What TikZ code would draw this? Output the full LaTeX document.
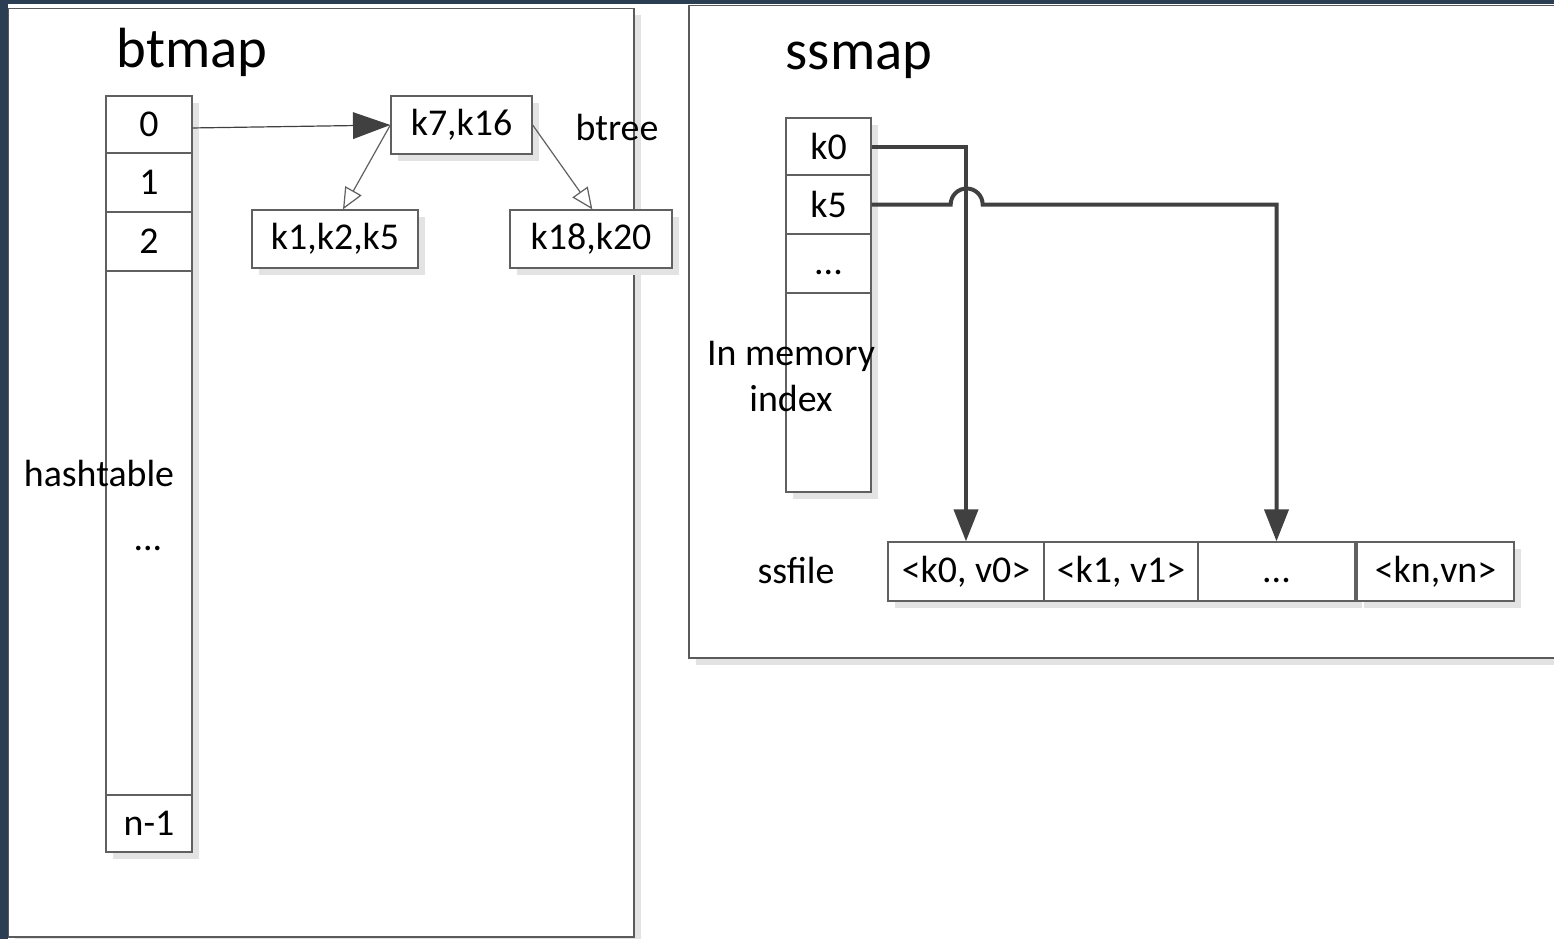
\documentclass[tikz,border=0pt]{standalone}
\usepackage{fontspec}
\setmainfont{Carlito}
\usetikzlibrary{arrows.meta,shadows,calc}

% one pixel of the drawing grid
\newlength\pxu
\setlength\pxu{0.75pt}

\definecolor{bgnavy}{RGB}{44,62,84}
\definecolor{boxgray}{RGB}{96,96,96}
\definecolor{framegray}{RGB}{90,90,90}
\definecolor{conngray}{RGB}{64,64,64}
\definecolor{shadegray}{RGB}{227,227,227}

\newcommand\bodytext{\fontsize{28.4pt}{34.5pt}\selectfont}
\newcommand\titletext{\fontsize{42.5pt}{50pt}\selectfont}
% dots set on the baseline, with the height of a regular entry
\newcommand\celldots{\vphantom{<k0, v0>}.\kern0pt.\kern0pt.}

\tikzset{
  cell/.style={draw=boxgray, line width=1pt, fill=white, inner sep=0pt,
    font=\bodytext, text=black,
    drop shadow={shadow xshift=5pt, shadow yshift=-5pt, fill=shadegray, opacity=1}},
  label/.style={inner sep=0pt, font=\bodytext, text=black},
  title/.style={inner sep=0pt, font=\titletext, text=black},
  frame/.style={draw=framegray, line width=1.3pt, fill=white},
  thinarrow/.style={draw=boxgray, line width=0.9pt},
  conn/.style={draw=conngray, line width=3pt,
    -{Triangle[length=24pt, width=18pt, fill=conngray]}},
}

\begin{document}
\begin{tikzpicture}[x=0.75pt, y=-0.75pt]
  \useasboundingbox (0,0) rectangle (1554,939);
  \fill[white] (0,0) rectangle (1554,939);
  \fill[bgnavy] (0,0) rectangle (1554,3.5);
  \fill[bgnavy] (0,0) rectangle (8,939);

  % ---------- btmap frame ----------
  \fill[shadegray] (15,15) rectangle (641,945);
  \path[frame] (8.5,8.5) rectangle (634,937);
  \node[title] (btmap) at (192,52) {btmap};

  % hashtable column
  \node[cell, minimum width=86\pxu, minimum height=57\pxu] (h0) at (149,124.5) {0};
  \node[cell, minimum width=86\pxu, minimum height=59\pxu] (h1) at (149,182.5) {1};
  \node[cell, minimum width=86\pxu, minimum height=59\pxu] (h2) at (149,241.5) {2};
  \node[cell, minimum width=86\pxu, minimum height=524\pxu] (hmid) at (149,533) {};
  \node[label] (hdots) at (148,540) {\celldots};
  \node[cell, minimum width=86\pxu, minimum height=57\pxu] (hn) at (149,823.5) {n-1};
  \node[label] (hlabel) at (99,473) {hashtable};

  % btree nodes
  \node[cell, minimum width=141\pxu, minimum height=58\pxu] (k7) at (461.5,125) {k7,k16};
  \node[cell, minimum width=166\pxu, minimum height=58\pxu] (k1) at (335,239) {k1,k2,k5};
  \node[cell, minimum width=162\pxu, minimum height=58\pxu] (k18) at (591,239) {k18,k20};
  \node[label] (btree) at (617,127) {btree};

  \draw[thinarrow, -{Triangle[length=28pt, width=20pt, fill=conngray]}, draw=conngray]
    ([yshift=-2.6pt]h0.east) -- (k7.west);
  \draw[thinarrow, -{Triangle[open, length=16pt, width=14pt, fill=white]}]
    (k7.west) -- ([xshift=6pt]k1.north);
  \draw[thinarrow, -{Triangle[open, length=16pt, width=14pt, fill=white]}]
    (k7.east) -- ([xshift=1pt]k18.north);

  % ---------- ssmap frame ----------
  \fill[shadegray] (696,13) rectangle (1560,665);
  \path[frame] (689,5.5) rectangle (1560,658);
  \node[title] (ssmap) at (859,60) {ssmap};

  % in-memory index column
  \node[cell, minimum width=85\pxu, minimum height=57\pxu] (s0) at (828.5,146.5) {k0};
  \node[cell, minimum width=85\pxu, minimum height=59\pxu] (s5) at (828.5,204.5) {k5};
  \node[cell, minimum width=85\pxu, minimum height=59\pxu] (sd) at (828.5,263.5) {\celldots};
  \node[cell, minimum width=85\pxu, minimum height=199\pxu] (smid) at (828.5,392.5) {};
  \node[label, align=center] (imlabel) at (791,376) {In memory\\index};

  % ssfile row
  \node[label] (ssfile) at (796,570) {ssfile};
  \node[cell, minimum width=156\pxu, minimum height=59\pxu] (f0) at (966,571.5) {<k0, v0>};
  \node[cell, minimum width=154\pxu, minimum height=59\pxu] (f1) at (1121,571.5) {<k1, v1>};
  \node[cell, minimum width=157\pxu, minimum height=59\pxu] (f2) at (1276.5,571.5) {\celldots};
  \node[cell, minimum width=157\pxu, minimum height=59\pxu] (fn) at (1435.5,571.5) {<kn,vn>};

  % index entries pointing into the file
  \draw[conn] (s0.east) -| (f0.north);
  \draw[conn] (s5.east) -- ++(79,0) arc[start angle=180, end angle=0, radius=16\pxu] -| (f2.north);
\end{tikzpicture}
\end{document}
